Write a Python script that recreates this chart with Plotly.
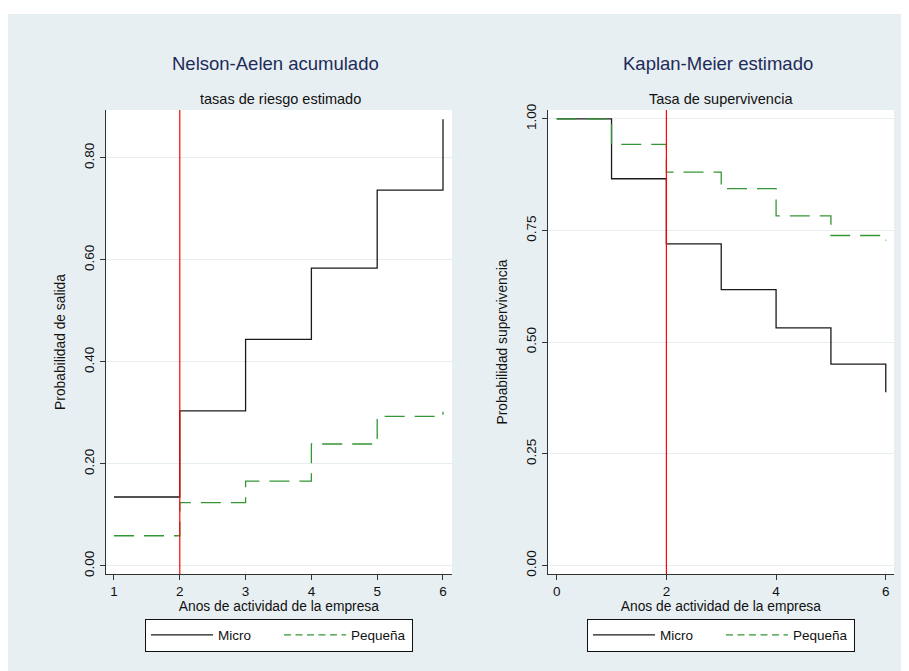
import plotly.graph_objects as go

# ---------------- data ----------------
na_years = [1, 2, 3, 4, 5, 6]
na_micro = [0.135, 0.304, 0.444, 0.584, 0.737, 0.876]
na_pequena = [0.059, 0.124, 0.166, 0.239, 0.293, 0.302]

km_years = [0, 1, 2, 3, 4, 5, 6]
km_micro = [1.0, 0.866, 0.720, 0.618, 0.532, 0.451, 0.388]
km_pequena = [1.0, 0.943, 0.881, 0.844, 0.783, 0.739, 0.728]

ref_year = 2
na_ticks = [0.0, 0.2, 0.4, 0.6, 0.8]
km_ticks = [0.0, 0.25, 0.5, 0.75, 1.0]
na_xticks = [1, 2, 3, 4, 5, 6]
km_xticks = [0, 2, 4, 6]

series_names = ["Micro", "Pequeña"]

# ---------------- style ----------------
W, H = 909, 671
OFF = 8  # page body margin around the figure div
BG = "#e8eff2"
BLACK = "#1a1a1a"
GREEN = "#349634"
FONT = "Liberation Sans, Arial, sans-serif"
TITLE_COLOR = "#1c2b59"


def px_x(p):
    return (p - OFF) / W


def px_y(p):
    return 1 - (p - OFF) / H


fig = go.Figure()

line_micro = dict(color=BLACK, width=1.3)
line_peq = dict(color=GREEN, width=1.3, dash="20px,10px")
legend_micro = dict(color=BLACK, width=1.3)
legend_peq = dict(color=GREEN, width=1.3, dash="7px,4.5px")

panels = [
    (na_years, na_micro, na_pequena, "x", "y", "legend"),
    (km_years, km_micro, km_pequena, "x2", "y2", "legend2"),
]
for xs, micro, peq, xa, ya, lg in panels:
    fig.add_trace(go.Scatter(x=xs, y=micro, mode="lines", line=line_micro, line_shape="hv",
                             name=series_names[0], xaxis=xa, yaxis=ya, showlegend=False))
    fig.add_trace(go.Scatter(x=xs, y=peq, mode="lines", line=line_peq, line_shape="hv",
                             name=series_names[1], xaxis=xa, yaxis=ya, showlegend=False))
    # legend entries (legend keys use a shorter dash, as in the original)
    fig.add_trace(go.Scatter(x=[None], y=[None], mode="lines", line=legend_micro,
                             name=series_names[0], xaxis=xa, yaxis=ya, legend=lg, showlegend=True))
    fig.add_trace(go.Scatter(x=[None], y=[None], mode="lines", line=legend_peq,
                             name=series_names[1], xaxis=xa, yaxis=ya, legend=lg, showlegend=True))

# reference lines at year 2
for xr, yr in (("x", "y domain"), ("x2", "y2 domain")):
    fig.add_shape(type="line", x0=ref_year, x1=ref_year, y0=0, y1=1, xref=xr, yref=yr,
                  line=dict(color="#ff0000", width=1.2), layer="above")

# thin white strip at the top of the picture
fig.add_shape(type="rect", xref="paper", yref="paper", x0=0, x1=1, y0=px_y(14), y1=1,
              fillcolor="white", line_width=0, layer="below")

ydom = [px_y(574), px_y(110)]
axis_common = dict(showline=True, linecolor="#333333", linewidth=1.3, ticks="outside",
                   ticklen=5, tickcolor="#333333", tickwidth=1.2, zeroline=False,
                   automargin=False,
                   tickfont=dict(size=13.5, color="#111111", family=FONT))
title_font = dict(size=13.8, color="#111111", family=FONT)

fig.update_layout(
    xaxis=dict(domain=[px_x(105.7), px_x(452)], range=[0.874, 6.137], tickvals=na_xticks,
               showgrid=False, anchor="y",
               title=dict(text="Anos de actividad de la empresa", standoff=2, font=title_font),
               **axis_common),
    yaxis=dict(domain=ydom, range=[-0.016, 0.894], tickvals=na_ticks, tickformat=".2f",
               tickangle=-90, showgrid=True, gridcolor="#e6eef0", gridwidth=1, anchor="x",
               title=dict(text="Probabilidad de salida", standoff=13, font=title_font),
               **axis_common),
    xaxis2=dict(domain=[px_x(547.7), px_x(894)], range=[-0.164, 6.15], tickvals=km_xticks,
                showgrid=False, anchor="y2",
                title=dict(text="Anos de actividad de la empresa", standoff=2, font=title_font),
                **axis_common),
    yaxis2=dict(domain=ydom, range=[-0.019, 1.02], tickvals=km_ticks, tickformat=".2f",
                tickangle=-90, showgrid=True, gridcolor="#e6eef0", gridwidth=1, anchor="x2",
                title=dict(text="Probabilidad supervivencia", standoff=13, font=title_font),
                **axis_common),
)

annotations = [
    dict(text="Nelson-Aelen acumulado", x=px_x(275.5), y=px_y(64), font=dict(size=18.5, color=TITLE_COLOR)),
    dict(text="tasas de riesgo estimado", x=px_x(280.5), y=px_y(99), font=dict(size=14.5, color="#111111")),
    dict(text="Kaplan-Meier estimado", x=px_x(718), y=px_y(64), font=dict(size=18.5, color=TITLE_COLOR)),
    dict(text="Tasa de supervivencia", x=px_x(720.8), y=px_y(99), font=dict(size=14.5, color="#111111")),
]
for a in annotations:
    a.update(xref="paper", yref="paper", showarrow=False, xanchor="center", yanchor="middle")
    a["font"]["family"] = FONT
fig.update_layout(annotations=annotations)

legend_common = dict(orientation="h", bgcolor="white", bordercolor="#111111", borderwidth=1,
                     font=dict(size=13.5, color="#111111", family=FONT),
                     xanchor="left", yanchor="top", y=px_y(618.5), entrywidth=56,
                     entrywidthmode="pixels", itemwidth=62, tracegroupgap=0)

fig.update_layout(
    width=W, height=H, autosize=False,
    margin=dict(l=0, r=0, t=0, b=0, autoexpand=False),
    paper_bgcolor=BG, plot_bgcolor="white",
    font=dict(family=FONT),
    showlegend=True,
    legend=dict(x=px_x(145), **legend_common),
    legend2=dict(x=px_x(587), **legend_common),
)

fig.write_html("out.html")
